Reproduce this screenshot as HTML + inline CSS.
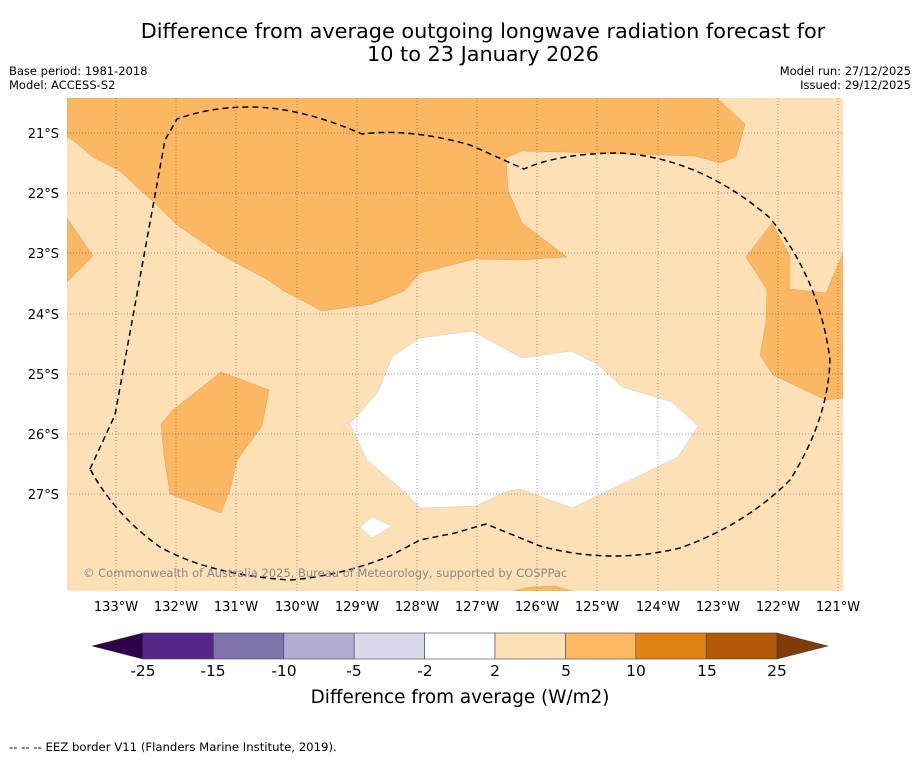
<!DOCTYPE html>
<html><head><meta charset="utf-8"><style>
body{margin:0;background:#fff;font-family:"Liberation Sans","DejaVu Sans",sans-serif;}
</style></head><body>
<svg width="919" height="758" xmlns="http://www.w3.org/2000/svg" font-family="DejaVu Sans, Liberation Sans, sans-serif">
<rect width="919" height="758" fill="#fff"/>
<text x="483" y="38" font-size="20.8" text-anchor="middle">Difference from average outgoing longwave radiation forecast for</text>
<text x="483" y="61" font-size="20.8" text-anchor="middle">10 to 23 January 2026</text>
<text x="9" y="75" font-size="11.5">Base period: 1981-2018</text>
<text x="9" y="89" font-size="11.5">Model: ACCESS-S2</text>
<text x="911" y="75" font-size="11.5" text-anchor="end">Model run: 27/12/2025</text>
<text x="911" y="89" font-size="11.5" text-anchor="end">Issued: 29/12/2025</text>
<defs><clipPath id="mc"><rect x="67" y="98" width="776" height="493"/></clipPath></defs>
<g clip-path="url(#mc)">
<rect x="67" y="98" width="776" height="493" fill="#fde0b6"/>
<g fill="#fbb762" stroke="#e0a060" stroke-width="0.5">
<polygon points="67,98 717,98 745,124 736,157 720,163 695,156 560,152 522,151 506,158 508,190 522,223 567,257 520,260 475,259 420,273 404,291 372,304 322,311 284,291 268,280 220,254 177,225 155,203 140,190 120,171 93,157 75,142 67,137"/>
<polygon points="67,218 93,256 67,282"/>
<polygon points="843,253 826,293 790,289 790,256 772,223 746,257 767,290 766,322 760,355 773,375 826,400 843,398"/>
<polygon points="221,372 269,390 262,426 237,460 230,490 221,513 170,494 164,455 161,424 173,410"/>
<polygon points="510,592 530,587 555,586 575,592"/>
</g>
<g fill="#fff" stroke="#ccc" stroke-width="0.5">
<polygon points="472,331 522,358 571,351 597,364 622,387 672,402 698,426 678,457 572,508 520,489 505,492 476,506 420,508 405,492 367,460 350,424 378,392 392,357 420,338"/>
<polygon points="360,527 372,517 392,526 372,538"/>
</g>
<g stroke="#333" stroke-width="0.7" stroke-dasharray="1,2" opacity="0.6">
<line x1="116" y1="98" x2="116" y2="591"/><line x1="176" y1="98" x2="176" y2="591"/><line x1="236" y1="98" x2="236" y2="591"/><line x1="297" y1="98" x2="297" y2="591"/><line x1="357" y1="98" x2="357" y2="591"/><line x1="417" y1="98" x2="417" y2="591"/><line x1="477" y1="98" x2="477" y2="591"/><line x1="537" y1="98" x2="537" y2="591"/><line x1="597" y1="98" x2="597" y2="591"/><line x1="658" y1="98" x2="658" y2="591"/><line x1="718" y1="98" x2="718" y2="591"/><line x1="778" y1="98" x2="778" y2="591"/><line x1="838" y1="98" x2="838" y2="591"/>
<line x1="67" y1="133" x2="843" y2="133"/><line x1="67" y1="193" x2="843" y2="193"/><line x1="67" y1="253" x2="843" y2="253"/><line x1="67" y1="314" x2="843" y2="314"/><line x1="67" y1="374" x2="843" y2="374"/><line x1="67" y1="434" x2="843" y2="434"/><line x1="67" y1="494" x2="843" y2="494"/>
</g>
<path fill="none" stroke="#000" stroke-width="1.5" stroke-dasharray="6,4" d="M90,469 L115,415 L165,140 L177,119 Q210,107 250,107 Q300,107 362,134 Q410,128 470,145 L524,169 Q560,153 620,153 Q700,158 770,218 Q820,280 830,360 Q828,420 790,480 Q745,525 680,548 Q610,565 540,546 L486,524 L455,533 L420,540 L390,556 Q340,576 290,580 Q210,575 160,547 Q115,515 90,469 Z"/>
<text x="83" y="577" font-size="11.5" fill="#888">© Commonwealth of Australia 2025, Bureau of Meteorology, supported by COSPPac</text>
</g>
<g font-size="13" text-anchor="end">
<text x="59" y="138">21°S</text><text x="59" y="198">22°S</text><text x="59" y="258">23°S</text><text x="59" y="319">24°S</text><text x="59" y="379">25°S</text><text x="59" y="439">26°S</text><text x="59" y="499">27°S</text>
</g>
<g font-size="13" text-anchor="middle">
<text x="116" y="611">133°W</text><text x="176" y="611">132°W</text><text x="236" y="611">131°W</text><text x="297" y="611">130°W</text><text x="357" y="611">129°W</text><text x="417" y="611">128°W</text><text x="477" y="611">127°W</text><text x="537" y="611">126°W</text><text x="597" y="611">125°W</text><text x="658" y="611">124°W</text><text x="718" y="611">123°W</text><text x="778" y="611">122°W</text><text x="838" y="611">121°W</text>
</g>
<g stroke="#444" stroke-width="0.6">
<polygon points="92,646 143,633 143,659" fill="#2d004b"/>
<rect x="143" y="633" width="70.4" height="26" fill="#542788"/>
<rect x="213.4" y="633" width="70.4" height="26" fill="#8073ac"/>
<rect x="283.8" y="633" width="70.4" height="26" fill="#b2abd2"/>
<rect x="354.2" y="633" width="70.4" height="26" fill="#d8daeb"/>
<rect x="424.6" y="633" width="70.4" height="26" fill="#ffffff"/>
<rect x="495" y="633" width="70.4" height="26" fill="#fee0b6"/>
<rect x="565.4" y="633" width="70.4" height="26" fill="#fdb863"/>
<rect x="635.8" y="633" width="70.4" height="26" fill="#e08214"/>
<rect x="706.2" y="633" width="70.8" height="26" fill="#b35806"/>
<polygon points="777,633 828,646 777,659" fill="#7f3b08"/>
</g>
<g font-size="15.5" text-anchor="middle">
<text x="143" y="676">-25</text><text x="213" y="676">-15</text><text x="284" y="676">-10</text><text x="354" y="676">-5</text><text x="425" y="676">-2</text><text x="495" y="676">2</text><text x="566" y="676">5</text><text x="636" y="676">10</text><text x="707" y="676">15</text><text x="777" y="676">25</text>
</g>
<text x="460" y="703" font-size="18.4" text-anchor="middle">Difference from average (W/m2)</text>
<text x="9" y="751" font-size="11.7">--  --  -- EEZ border V11 (Flanders Marine Institute, 2019).</text>
</svg>
</body></html>
